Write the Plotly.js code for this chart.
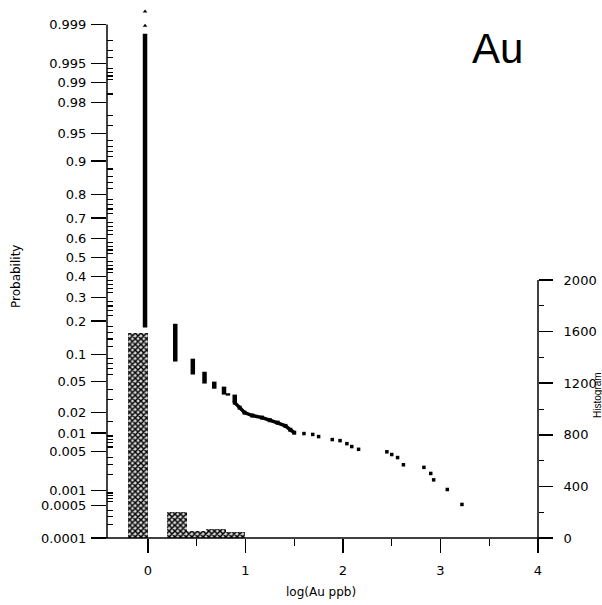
<!DOCTYPE html>
<html>
<head>
<meta charset="utf-8">
<script src="https://cdn.plot.ly/plotly-3.0.1.min.js"></script>
<style>html,body{margin:0;padding:0;background:#fff;}#chart{width:602px;height:605px;}</style>
</head>
<body>
<div id="chart"></div>
<script>
// ---------- data ----------
// probability-plot clusters of tied values: log(Au ppb) and probability span
const streakX   = [-0.03, 0.28, 0.46, 0.58, 0.68, 0.78, 0.82, 0.89];
const streakPHi = [0.9985, 0.19, 0.090, 0.065, 0.050, 0.0435, 0.036, 0.0346];
const streakPLo = [0.177, 0.084, 0.0605, 0.0474, 0.041, 0.0346, 0.0336, 0.0272];
// dense band of points
const bandX = [0.89, 0.94, 0.99, 1.07, 1.17, 1.25, 1.33, 1.41, 1.46, 1.50];
const bandP = [0.0272, 0.0233, 0.0199, 0.0181, 0.0169, 0.0155, 0.0143, 0.0128, 0.0112, 0.0101];
// isolated upper-tail points
const tailX = [1.60, 1.69, 1.75, 1.89, 1.97, 2.04, 2.09, 2.16, 2.45, 2.50, 2.56, 2.62, 2.83, 2.90, 2.93, 3.07, 3.22];
const tailP = [0.0098, 0.0095, 0.0088, 0.0079, 0.0076, 0.0068, 0.0061, 0.0055, 0.0050, 0.0045, 0.0040, 0.0030, 0.0027, 0.0021, 0.0016, 0.00105, 0.00053];
// top-most single points of the first cluster
const topX = [-0.03, -0.03];
const topP = [0.99895, 0.99945];
// histogram (right axis)
const histCenters = [-0.1, 0.3, 0.5, 0.7, 0.9];
const histCounts  = [1590, 200, 55, 70, 45];
const histWidth = 0.2;
// axis ticks
const probTicks = [0.0001,0.0005,0.001,0.005,0.01,0.02,0.05,0.1,0.2,0.3,0.4,0.5,0.6,0.7,0.8,0.9,0.95,0.98,0.99,0.995,0.999];
const probTickText = ['0.0001','0.0005','0.001','0.005','0.01','0.02','0.05','0.1','0.2','0.3','0.4','0.5','0.6','0.7','0.8','0.9','0.95','0.98','0.99','0.995','0.999'];
const probMinor = [0.0002,0.0003,0.0004,0.0006,0.0007,0.0008,0.0009,
  0.002,0.003,0.004,0.006,0.007,0.008,0.009,0.015,
  0.03,0.04,0.06,0.07,0.08,0.09,
  0.12,0.14,0.16,0.18,0.22,0.24,0.26,0.28,0.32,0.34,0.36,0.38,0.42,0.44,0.46,0.48,
  0.52,0.54,0.56,0.58,0.62,0.64,0.66,0.68,0.72,0.74,0.76,0.78,0.82,0.84,0.86,0.88,
  0.91,0.92,0.93,0.94,0.96,0.97,0.985,0.991,0.992,0.993,0.994,0.996,0.997,0.998];
const xTicks = [0, 1, 2, 3, 4];
const xTickText = ['0', '1', '2', '3', '4'];
const xMinor = [0.5, 1.5, 2.5, 3.5];
const histTicks = [0, 400, 800, 1200, 1600, 2000];
const histTickText = ['0', '400', '800', '1200', '1600', '2000'];
const histMinor = [200, 600, 1000, 1400, 1800];

// ---------- probability scale (normal quantile) ----------
function invNorm(p) {
  const a = [-3.969683028665376e+01, 2.209460984245205e+02, -2.759285104469687e+02, 1.383577518672690e+02, -3.066479806614716e+01, 2.506628277459239e+00];
  const b = [-5.447609879822406e+01, 1.615858368580409e+02, -1.556989798598866e+02, 6.680131188771972e+01, -1.328068155288572e+01];
  const c = [-7.784894002430293e-03, -3.223964580411365e-01, -2.400758277161838e+00, -2.549732539343734e+00, 4.374664141464968e+00, 2.938163982698783e+00];
  const d = [7.784695709041462e-03, 3.224671290700398e-01, 2.445134137142996e+00, 3.754408661907416e+00];
  const pl = 0.02425;
  let q, r;
  if (p < pl) {
    q = Math.sqrt(-2 * Math.log(p));
    return (((((c[0]*q+c[1])*q+c[2])*q+c[3])*q+c[4])*q+c[5]) / ((((d[0]*q+d[1])*q+d[2])*q+d[3])*q+1);
  } else if (p <= 1 - pl) {
    q = p - 0.5; r = q * q;
    return (((((a[0]*r+a[1])*r+a[2])*r+a[3])*r+a[4])*r+a[5])*q / (((((b[0]*r+b[1])*r+b[2])*r+b[3])*r+b[4])*r+1);
  } else {
    q = Math.sqrt(-2 * Math.log(1 - p));
    return -(((((c[0]*q+c[1])*q+c[2])*q+c[3])*q+c[4])*q+c[5]) / ((((d[0]*q+d[1])*q+d[2])*q+d[3])*q+1);
  }
}

const zLo = invNorm(0.0001);
const zHi = zLo + 533 / 75.4;
const y2Max = 2000 * 533 / 258;
const paperZ = z => (z - zLo) / (zHi - zLo);

// segments for tied clusters
const segX = [], segY = [];
streakX.forEach((x, i) => {
  segX.push(x, x, null);
  segY.push(invNorm(streakPHi[i]), invNorm(streakPLo[i]), null);
});

const traces = [
  {
    type: 'bar', x: histCenters, y: histCounts, width: histWidth, yaxis: 'y2',
    marker: { color: '#d8d8d8', line: { width: 0 },
      pattern: { shape: 'x', size: 4, solidity: 0.6, fgcolor: '#000', bgcolor: '#d8d8d8' } },
    hoverinfo: 'skip', showlegend: false
  },
  {
    type: 'scatter', mode: 'lines', x: segX, y: segY,
    line: { color: '#000', width: 4.5 }, connectgaps: false, showlegend: false
  },
  {
    type: 'scatter', mode: 'lines+markers', x: bandX, y: bandP.map(invNorm),
    line: { color: '#000', width: 3.5 }, marker: { symbol: 'square', size: 4, color: '#000' }, showlegend: false
  },
  {
    // same probability scale, drawn on the overlay axis that carries the inside minor ticks
    type: 'scatter', mode: 'markers', x: tailX, y: tailP.map(invNorm), yaxis: 'y3',
    marker: { symbol: 'square', size: 3.5, color: '#000' }, showlegend: false
  },
  {
    type: 'scatter', mode: 'markers', x: topX, y: topP.map(invNorm),
    marker: { symbol: 'triangle-up', size: 4, color: '#000' }, showlegend: false
  }
];

const tickFont = { family: 'DejaVu Sans, Liberation Sans, sans-serif', size: 13, color: '#000' };
const L = 107;
const px2x = px => (px - L) / 431;
const px2y = py => (538 - py) / 533;

const shapes = [
  { type: 'line', xref: 'paper', yref: 'paper', x0: 0, x1: 0, y0: 0, y1: paperZ(invNorm(0.999)), line: { color: '#000', width: 1.5 } },
  { type: 'line', xref: 'paper', yref: 'paper', x0: px2x(97), x1: px2x(546), y0: 0, y1: 0, line: { color: '#000', width: 1.5 } },
  { type: 'line', xref: 'paper', yref: 'paper', x0: 1, x1: 1, y0: px2y(546), y1: 2000 / y2Max, line: { color: '#000', width: 1.5 } }
];

const layout = {
  width: 602, height: 605,
  margin: { l: 107, r: 64, t: 5, b: 67, pad: 0 },
  paper_bgcolor: '#fff', plot_bgcolor: '#fff',
  showlegend: false,
  bargap: 0,
  xaxis: {
    range: [-0.42, 4], tickmode: 'array', tickvals: xTicks, ticktext: xTickText,
    ticks: 'outside', ticklen: 14, tickwidth: 1.5, tickcolor: '#000',
    minor: { tickmode: 'array', tickvals: xMinor, ticks: 'outside', ticklen: 7, tickwidth: 1.2, tickcolor: '#000', showgrid: false },
    showline: false, showgrid: false, zeroline: false, tickfont: tickFont, ticklabelstandoff: 6
  },
  yaxis: {
    range: [zLo, zHi], tickmode: 'array', tickvals: probTicks.map(invNorm), ticktext: probTickText,
    ticks: 'outside', ticklen: 15, tickwidth: 1.2, tickcolor: '#000',
    showline: false, showgrid: false, zeroline: false, tickfont: tickFont, ticklabelstandoff: 2
  },
  yaxis3: {
    overlaying: 'y', side: 'left', anchor: 'x', range: [zLo, zHi],
    tickmode: 'array', tickvals: probMinor.map(invNorm), ticktext: probMinor.map(() => ''),
    ticks: 'inside', ticklen: 6, tickwidth: 1.2, tickcolor: '#000',
    showticklabels: false, showline: false, showgrid: false, zeroline: false
  },
  yaxis2: {
    overlaying: 'y', side: 'right', anchor: 'x', range: [0, y2Max],
    tickmode: 'array', tickvals: histTicks, ticktext: histTickText,
    ticks: 'outside', ticklen: 14, tickwidth: 1.5, tickcolor: '#000',
    minor: { tickmode: 'array', tickvals: histMinor, ticks: 'outside', ticklen: 5, tickwidth: 1, tickcolor: '#000', showgrid: false },
    showline: false, showgrid: false, zeroline: false, tickfont: tickFont, ticklabelstandoff: 8
  },
  shapes: shapes,
  annotations: [
    { text: 'Au', xref: 'paper', yref: 'paper', x: px2x(470), y: px2y(48), xanchor: 'left', yanchor: 'middle', showarrow: false,
      font: { family: 'Liberation Sans, Arial, sans-serif', size: 42, color: '#000' } },
    { text: 'log(Au ppb)', xref: 'paper', yref: 'paper', x: px2x(321), y: px2y(592), xanchor: 'center', yanchor: 'middle', showarrow: false,
      font: { family: 'DejaVu Sans, sans-serif', size: 12, color: '#000' } },
    { text: 'Probability', xref: 'paper', yref: 'paper', x: px2x(16), y: px2y(277), xanchor: 'center', yanchor: 'middle', textangle: -90, showarrow: false,
      font: { family: 'DejaVu Sans, sans-serif', size: 12, color: '#000' } },
    { text: 'Histogram', xref: 'paper', yref: 'paper', x: px2x(597), y: px2y(395), xanchor: 'center', yanchor: 'middle', textangle: -90, showarrow: false,
      font: { family: 'Liberation Sans, Arial, sans-serif', size: 10, color: '#000' } }
  ]
};

Plotly.newPlot('chart', traces, layout, { staticPlot: true, displayModeBar: false });
</script>
</body>
</html>
